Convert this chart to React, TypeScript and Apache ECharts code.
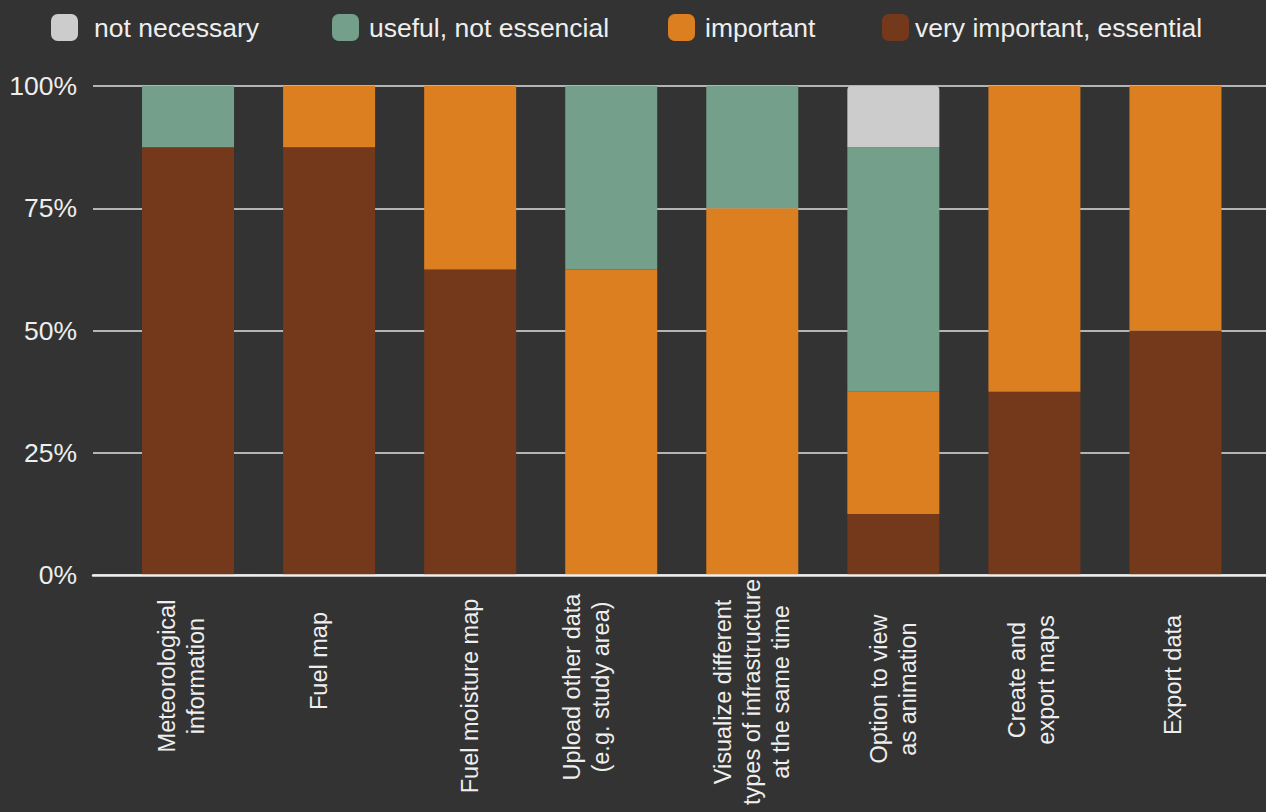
import React, { useEffect, useRef } from "react";
import * as echarts from "echarts";

const categories = [
  "Meteorological\ninformation",
  "Fuel map",
  "Fuel moisture map",
  "Upload other data\n(e.g. study area)",
  "Visualize different\ntypes of infrastructure\nat the same time",
  "Option to view\nas animation",
  "Create and\nexport maps",
  "Export data",
];

// percentages of respondents (stacked to 100%)
const veryImportant = [87.5, 87.5, 62.5, 0, 0, 12.5, 37.5, 50];
const important = [0, 12.5, 37.5, 62.5, 75, 25, 62.5, 50];
const usefulNotEssential = [12.5, 0, 0, 37.5, 25, 50, 0, 0];
const notNecessary = [0, 0, 0, 0, 0, 12.5, 0, 0];

const seriesNames = ["not necessary", "useful, not essencial", "important", "very important, essential"];
const colors = {
  notNecessary: "#cccccc",
  useful: "#739f8b",
  important: "#dc7f21",
  very: "#74391b",
};

// per-label offsets (padding in rotated text space)
const labelShiftDown = [30, 0, 70, 52, 62, 56, 38, 28];
const labelShiftLeft = [14, 20, 0, 50, 0, 0, 6, 4];

const FONT = "'Liberation Sans', Arial, sans-serif";
const TXT = "#eeeeee";

export default function App() {
  const ref = useRef<HTMLDivElement>(null);
  useEffect(() => {
    if (!ref.current) return;
    const chart = echarts.init(ref.current, undefined, { renderer: "svg" });
    const legendBase = {
      orient: "horizontal",
      top: 9,
      itemWidth: 27,
      itemHeight: 27,
      icon: "roundRect",
      textStyle: { fontSize: 26.5, color: TXT, fontFamily: FONT },
      itemStyle: { borderWidth: 0 },
      selectedMode: false,
    };
    const labelStyle = {
      align: "center",
      verticalAlign: "middle",
      fontSize: 23.5,
      lineHeight: 29,
      color: TXT,
      fontFamily: FONT,
      rich: { n: { fontSize: 23.5, lineHeight: 29, color: TXT, fontFamily: FONT } },
    };
    const option: any = {
      animation: false,
      backgroundColor: "#333333",
      textStyle: { fontFamily: FONT },
      legend: [
        { ...legendBase, left: 46, data: [seriesNames[0]], textStyle: { ...legendBase.textStyle, padding: [0, 0, 0, 11] } },
        { ...legendBase, left: 327, data: [seriesNames[1]], textStyle: { ...legendBase.textStyle, padding: [0, 0, 0, 5] } },
        { ...legendBase, left: 663, data: [seriesNames[2]], textStyle: { ...legendBase.textStyle, padding: [0, 0, 0, 5] } },
        { ...legendBase, left: 877, data: [seriesNames[3]], textStyle: { ...legendBase.textStyle, padding: [0, 0, 0, 1] } },
      ],
      grid: [
        { left: 93, right: 0, top: 86, bottom: 237, outerBoundsMode: "none", containLabel: false },
        { left: 117.5, right: 20, top: 86, bottom: 237, outerBoundsMode: "none", containLabel: false },
      ],
      xAxis: [
        {
          gridIndex: 0,
          type: "category",
          data: [""],
          z: 10,
          axisLine: { show: true, lineStyle: { color: "#eeeeee", width: 2.5 } },
          axisTick: { show: false },
          axisLabel: { show: false },
          splitLine: { show: false },
        },
        {
          gridIndex: 1,
          type: "category",
          data: categories.map((c, i) => ({
            value: c,
            textStyle: { ...labelStyle, padding: [0, labelShiftDown[i], labelShiftLeft[i], 0] },
          })),
          axisLine: { show: false },
          axisTick: { show: false },
          axisLabel: {
            ...labelStyle,
            rotate: 90,
            margin: 86,
            interval: 0,
            hideOverlap: false,
          },
        },
      ],
      yAxis: [
        {
          gridIndex: 0,
          type: "value",
          min: 0,
          max: 100,
          interval: 25,
          axisLine: { show: false },
          axisTick: { show: false },
          axisLabel: {
            formatter: "{value}%",
            fontSize: 26.5,
            color: TXT,
            fontFamily: FONT,
            margin: 16,
          },
          splitLine: { show: true, lineStyle: { color: "#b4b4b4", width: 2 } },
        },
        {
          gridIndex: 1,
          type: "value",
          min: 0,
          max: 100,
          interval: 25,
          show: false,
          splitLine: { show: false },
        },
      ],
      series: [
        {
          name: seriesNames[3],
          type: "bar",
          stack: "total",
          xAxisIndex: 1,
          yAxisIndex: 1,
          barWidth: 92,
          data: veryImportant,
          itemStyle: { color: colors.very },
        },
        {
          name: seriesNames[2],
          type: "bar",
          stack: "total",
          xAxisIndex: 1,
          yAxisIndex: 1,
          barWidth: 92,
          data: important,
          itemStyle: { color: colors.important },
        },
        {
          name: seriesNames[1],
          type: "bar",
          stack: "total",
          xAxisIndex: 1,
          yAxisIndex: 1,
          barWidth: 92,
          data: usefulNotEssential,
          itemStyle: { color: colors.useful },
        },
        {
          name: seriesNames[0],
          type: "bar",
          stack: "total",
          xAxisIndex: 1,
          yAxisIndex: 1,
          barWidth: 92,
          data: notNecessary,
          itemStyle: { color: colors.notNecessary, borderRadius: [4, 4, 0, 0] },
        },
      ],
    };
    chart.setOption(option);
    return () => chart.dispose();
  }, []);
  return (
    <div
      ref={ref}
      style={{ position: "fixed", left: 0, top: 0, width: 1266, height: 812 }}
    />
  );
}
